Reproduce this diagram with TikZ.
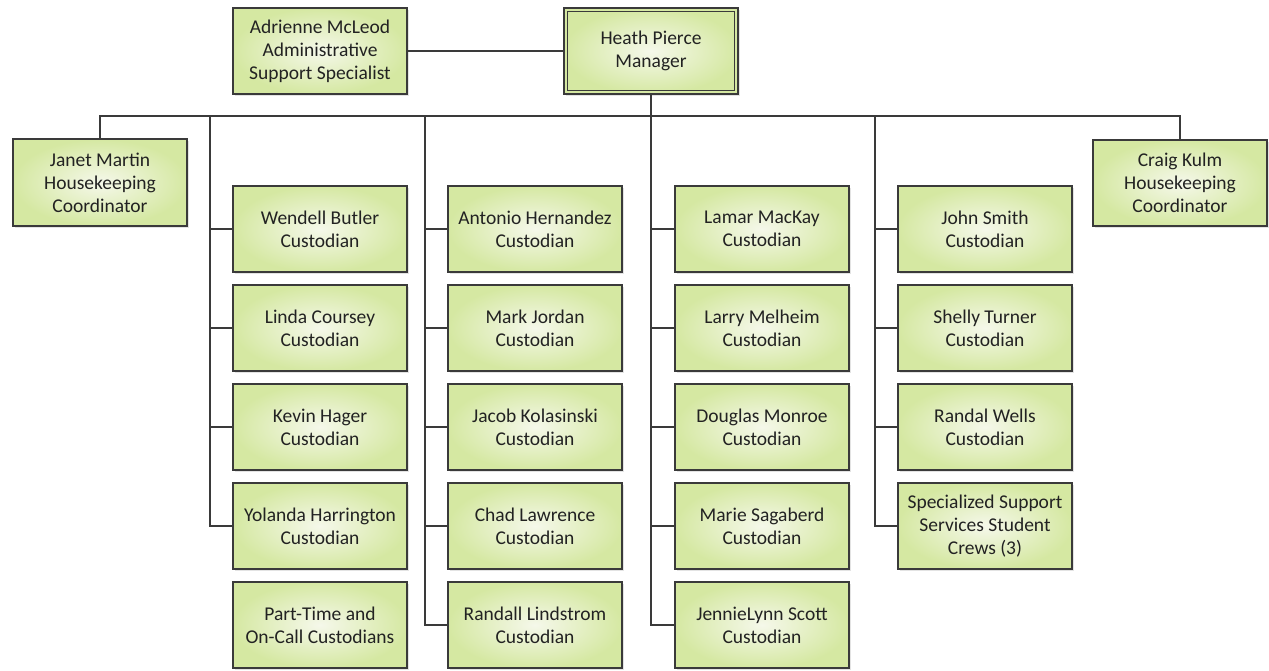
\documentclass[tikz,border=0pt]{standalone}
\usepackage{fontspec}
\setmainfont{Carlito}
\usetikzlibrary{shadows}
\definecolor{boxedge}{RGB}{58,58,58}
\definecolor{gin}{RGB}{245,248,234}
\definecolor{gout}{RGB}{213,232,162}
\definecolor{txt}{RGB}{34,34,34}
\begin{document}
\begin{tikzpicture}[x=1pt,y=-1pt,
  font=\fontsize{19.5}{23}\selectfont,
  box/.style={rectangle, draw=boxedge, line width=1.8pt, minimum width=174.5pt, minimum height=86.5pt,
    inner sep=0pt, align=center, shading=radial, inner color=gin, outer color=gout,
    drop shadow={shadow xshift=2pt, shadow yshift=-2pt, opacity=0.22}, text=txt},
  conn/.style={draw=boxedge, line width=1.6pt}]
\useasboundingbox (0,0) rectangle (1269,670);

% top
\node[box] (adm) at (320,51) {Adrienne McLeod\\Administrative\\Support Specialist};
\node[box] (mgr) at (651,51) {Heath Pierce\\Manager};
\draw[boxedge, line width=1.3pt] ([xshift=4.5pt,yshift=-4.5pt]mgr.north west) rectangle ([xshift=-4.5pt,yshift=4.5pt]mgr.south east);

\node[box] (jm) at (100,182.5) {Janet Martin\\Housekeeping\\Coordinator};
\node[box] (ck) at (1180,183) {Craig Kulm\\Housekeeping\\Coordinator};

% column 1
\node[box] (a1) at (320,229) {Wendell Butler\\Custodian};
\node[box] (a2) at (320,328) {Linda Coursey\\Custodian};
\node[box] (a3) at (320,427) {Kevin Hager\\Custodian};
\node[box] (a4) at (320,526) {Yolanda Harrington\\Custodian};
\node[box] (a5) at (320,625) {Part-Time and\\On-Call Custodians};
% column 2
\node[box] (b1) at (535,229) {Antonio Hernandez\\Custodian};
\node[box] (b2) at (535,328) {Mark Jordan\\Custodian};
\node[box] (b3) at (535,427) {Jacob Kolasinski\\Custodian};
\node[box] (b4) at (535,526) {Chad Lawrence\\Custodian};
\node[box] (b5) at (535,625) {Randall Lindstrom\\Custodian};
% column 3
\node[box] (c1) at (762,229) {Lamar MacKay\\Custodian};
\node[box] (c2) at (762,328) {Larry Melheim\\Custodian};
\node[box] (c3) at (762,427) {Douglas Monroe\\Custodian};
\node[box] (c4) at (762,526) {Marie Sagaberd\\Custodian};
\node[box] (c5) at (762,625) {JennieLynn Scott\\Custodian};
% column 4
\node[box] (d1) at (985,229) {John Smith\\Custodian};
\node[box] (d2) at (985,328) {Shelly Turner\\Custodian};
\node[box] (d3) at (985,427) {Randal Wells\\Custodian};
\node[box] (d4) at (985,526) {Specialized Support\\Services Student\\Crews (3)};

% connectors
\coordinate (bus) at (651,116);
\coordinate (v1) at (210,116);
\coordinate (v2) at (425,116);
\coordinate (v4) at (875,116);

\draw[conn] (adm.east) -- (mgr.west);
\draw[conn] (jm.north) |- (bus) -| (ck.north);
\draw[conn] (mgr.south) |- (c5.west);
\draw[conn] (v1) |- (a4.west);
\draw[conn] (v2) |- (b5.west);
\draw[conn] (v4) |- (d4.west);
\foreach \n in {a1,a2,a3} \draw[conn] (v1 |- \n.west) -- (\n.west);
\foreach \n in {b1,b2,b3,b4} \draw[conn] (v2 |- \n.west) -- (\n.west);
\foreach \n in {c1,c2,c3,c4} \draw[conn] (bus |- \n.west) -- (\n.west);
\foreach \n in {d1,d2,d3} \draw[conn] (v4 |- \n.west) -- (\n.west);
\end{tikzpicture}
\end{document}
